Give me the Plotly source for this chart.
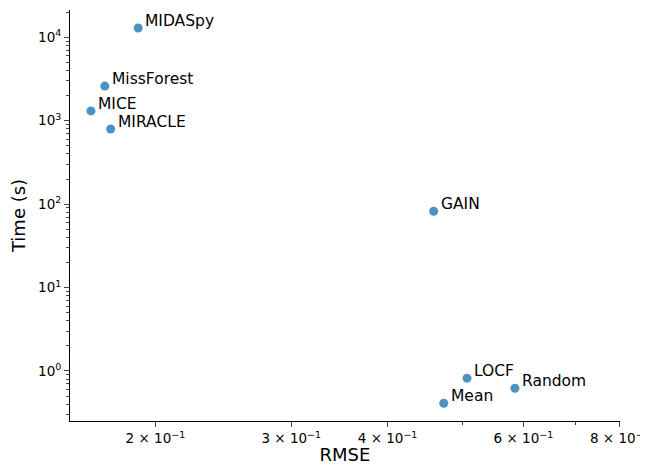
import numpy as np
import plotly.graph_objects as go

methods = ["MIDASpy", "MissForest", "MICE", "MIRACLE", "GAIN", "LOCF", "Random", "Mean"]
rmse = [0.190, 0.172, 0.165, 0.175, 0.459, 0.507, 0.585, 0.473]
time_s = [12900, 2600, 1310, 795, 82, 0.82, 0.62, 0.41]

x_ticks = [0.2, 0.3, 0.4, 0.6, 0.8]
x_ticktext = ["2 × 10<sup>−1</sup>", "3 × 10<sup>−1</sup>", "4 × 10<sup>−1</sup>",
              "6 × 10<sup>−1</sup>", "8 × 10<sup>−1</sup>"]
y_ticks = [1, 10, 100, 1000, 10000]
y_ticktext = ["10<sup>0</sup>", "10<sup>1</sup>", "10<sup>2</sup>", "10<sup>3</sup>", "10<sup>4</sup>"]

fig = go.Figure()
fig.add_trace(go.Scatter(
    x=rmse, y=time_s, mode="markers",
    marker=dict(color="#1f77b4", opacity=0.8, size=9, line=dict(width=0)),
    hovertext=methods, showlegend=False,
))

# labels next to each point
for m, xv, yv in zip(methods, rmse, time_s):
    fig.add_annotation(x=np.log10(xv), y=np.log10(yv), text=m, showarrow=False,
                       xanchor="left", yanchor="middle", xshift=5, yshift=7,
                       font=dict(size=15.5, color="black"))

y_minor = [m * 10 ** e for e in range(-1, 5) for m in range(2, 10)]
x_minor = [0.5, 0.7]

fig.update_xaxes(
    type="log", range=[np.log10(0.155), np.log10(0.8005)], automargin=False,
    tickvals=x_ticks, ticktext=x_ticktext, ticks="outside", ticklen=5,
    ticklabeloverflow="allow",
    showline=True, linecolor="black", linewidth=1, showgrid=False, zeroline=False,
    minor=dict(tickvals=x_minor, ticks="outside", ticklen=3, showgrid=False),
    title=dict(text="RMSE", font=dict(size=18), standoff=4),
    tickfont=dict(size=13.5),
)
fig.update_yaxes(
    type="log", range=[-0.6, 4.327], automargin=False,
    tickvals=y_ticks, ticktext=y_ticktext, ticks="outside", ticklen=5,
    showline=True, linecolor="black", linewidth=1, showgrid=False, zeroline=False,
    minor=dict(tickvals=y_minor, ticks="outside", ticklen=3, showgrid=False),
    title=dict(text="Time (s)", font=dict(size=18), standoff=8),
    tickfont=dict(size=13.5),
)
# the page body adds an 8px offset, so the figure is 8px smaller and margins shifted
fig.update_layout(
    width=640, height=457,
    margin=dict(l=62, r=28, t=2, b=44),
    plot_bgcolor="white", paper_bgcolor="white",
    font=dict(family="DejaVu Sans", color="black"),
)

fig.write_html("out.html")
